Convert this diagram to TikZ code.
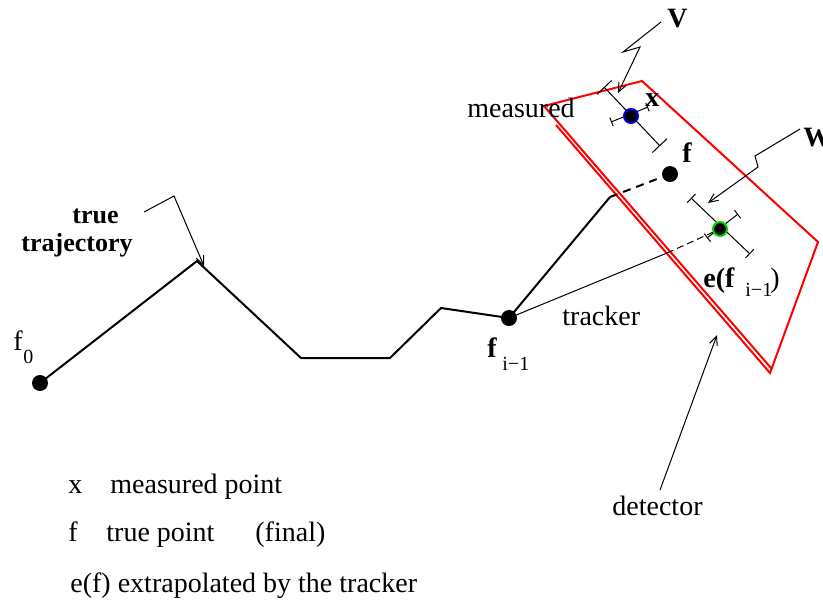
\documentclass[tikz,border=0pt]{standalone}
\usepackage{fontspec}
\setmainfont{Liberation Serif}
\usepackage{tikz}
\usetikzlibrary{arrows.meta}

\definecolor{azul}{RGB}{0,0,230}
\definecolor{verde}{RGB}{0,215,0}

\begin{document}
\begin{tikzpicture}[x=0.5pt, y=-0.5pt,
    font=\fontsize{14}{17}\selectfont,
    ponto/.style={circle, fill=black, inner sep=0pt, minimum size=8pt},
    texto/.style={anchor=base west, inner sep=0pt},
    negrito/.style={texto, font=\fontsize{14}{17}\selectfont\bfseries},
    indice/.style={texto, font=\fontsize{10}{12}\selectfont},
    seta/.style={line width=0.5pt, -{Straight Barb[length=4.5pt, width=4pt]}},
    barra/.style={line width=0.5pt, {Bar[width=#1]}-{Bar[width=#1]}}]

    \useasboundingbox (0,0) rectangle (823,607);

    % Detector (plano vermelho, borda dupla)
    \draw[red, line width=1pt, line join=miter]
        (771,368) -- (544,106) -- (642,81) -- (818,242) -- (770,373) -- (556,125);

    % Trajetoria verdadeira
    \node[ponto] (f0) at (40,383) {};
    \node[ponto] (fim1) at (509,318) {};
    \coordinate (k1) at (197,261);
    \coordinate (k2) at (301,358);
    \coordinate (k3) at (390,358);
    \coordinate (k4) at (441,308);
    \draw[line width=1pt, line join=miter]
        (f0.center) -- (k1) -- (k2) -- (k3) -- (k4) -- (fim1.center);

    % Barras de erro
    \draw[barra=10pt] (604,87) -- (660,146);
    \draw[barra=4.5pt] (611,122) -- (648,107);
    \draw[barra=6pt] (691,198) -- (750,254);
    \draw[barra=5pt] (707,238) -- (738,214);

    % Tracker ate o detector
    \node[ponto] (f) at (670,174) {};
    \node[ponto, draw=azul, line width=1pt, minimum size=7pt] (x) at (631,116) {};
    \node[ponto, draw=verde, line width=1pt, minimum size=7pt] (e) at (720,229) {};
    \coordinate (cruza) at (610,197);
    \coordinate (corte) at (667,253);
    \draw[line width=1pt] (fim1.center) -- (cruza);
    \draw[line width=1pt, dash pattern=on 4pt off 3pt] (cruza) -- (f);
    \draw[line width=0.5pt] (fim1.center) -- (corte);
    \draw[line width=0.5pt, dash pattern=on 3.5pt off 2pt] (corte) -- (e);

    % Rotulos
    \node[texto] (lf0) at (13,350) {f};
    \node[indice] (lf0i) at (23,363) {0};
    \node[negrito] (lfim1) at (487,357) {f};
    \node[indice] (lfim1i) at (502,370) {i−1};
    \node[negrito, font=\fontsize{13}{16}\selectfont\bfseries] (ltrue) at (72,223) {true};
    \node[negrito, font=\fontsize{13}{16}\selectfont\bfseries] (ltraj) at (21,251) {trajectory};
    \node[texto] (lmeas) at (467,117) {measured};
    \node[negrito] (lx) at (645,106) {x};
    \node[negrito] (lf) at (682,162) {f};
    \node[negrito] (lV) at (667,27) {V};
    \node[negrito] (lW) at (803,146) {W};
    \node[texto] (ltrack) at (562,325) {tracker};
    \node[negrito] (le) at (703,287) {e(f};
    \node[indice] (lei) at (745,296) {i−1};
    \node[texto] (lepar) at (770,287) {)};
    \node[texto] (ldet) at (612,515) {detector};

    % Setas
    \coordinate (pT) at (144,212);
    \coordinate (tT) at (204,266);
    \draw[seta] (pT) -- (174,196) -- (tT);
    \coordinate (pV) at (661,22);
    \coordinate (tV) at (618,93);
    \draw[seta] (pV) -- (623,52) -- (640,47) -- (tV);
    \coordinate (pW) at (800,129);
    \coordinate (tW) at (708,203);
    \draw[seta] (pW) -- (755,156) -- (758,167) -- (tW);
    \coordinate (pD) at (660,490);
    \coordinate (tD) at (717,335);
    \draw[seta] (pD) -- (tD);

    % Legenda
    \node[texto] (leg1) at (68,493) {x};
    \node[texto] (leg1t) at (110,493) {measured point};
    \node[texto] (leg2) at (68,541) {f};
    \node[texto] (leg2t) at (106,541) {true point};
    \node[texto] (leg2f) at (255,541) {(final)};
    \node[texto] (leg3) at (70,592) {e(f) extrapolated by the tracker};

\end{tikzpicture}
\end{document}
